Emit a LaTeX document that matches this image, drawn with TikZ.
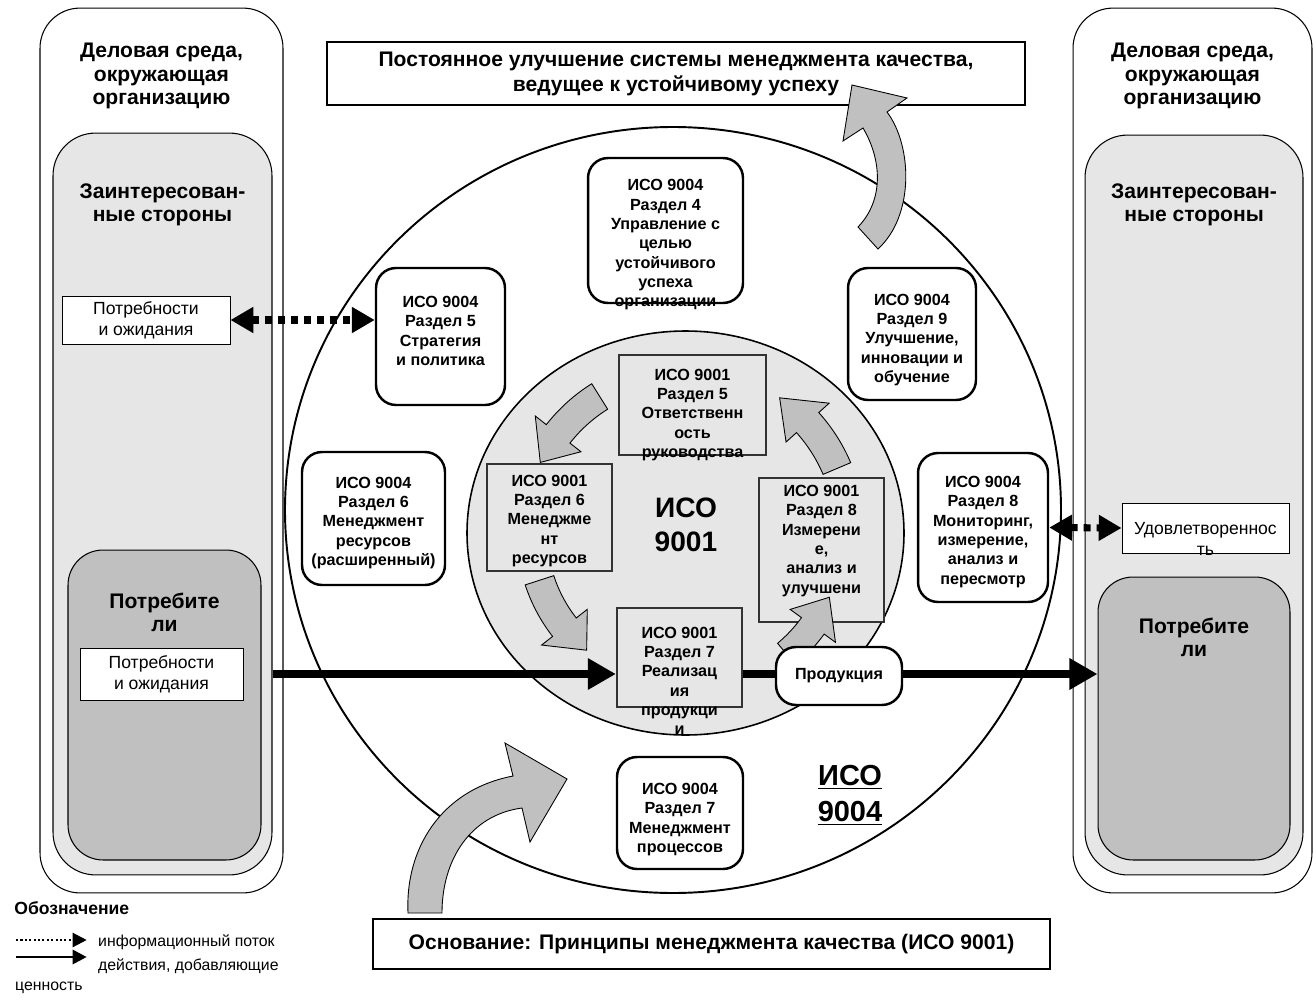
\documentclass[tikz,border=0pt]{standalone}
\usepackage{fontspec}
\setmainfont{Liberation Sans}
\usetikzlibrary{arrows.meta}

\definecolor{paleg}{HTML}{E6E6E6}
\definecolor{darkg}{HTML}{C0C0C0}
\definecolor{edgeg}{HTML}{333333}

\tikzset{
  envbox/.style={draw, fill=white, rounded corners=0.8cm, line width=0.6pt},
  stakebox/.style={draw, fill=paleg, rounded corners=0.85cm, line width=0.6pt},
  custbox/.style={draw, fill=darkg, rounded corners=0.7cm, line width=0.6pt},
  needbox/.style={draw, fill=white, line width=0.5pt, inner sep=0pt, align=center, font=\fontsize{10}{12}\selectfont},
  box4/.style={draw, fill=white, rounded corners=0.4cm, line width=1.4pt},
  box1/.style={draw=edgeg, fill=paleg, line width=1.3pt},
  boxtext/.style={align=center, inner sep=0pt, font=\fontsize{9.2}{11}\selectfont\bfseries},
  headtext/.style={align=center, inner sep=0pt, font=\fontsize{12}{13.4}\selectfont\bfseries},
  banner/.style={draw, fill=white, line width=1.5pt, align=center, inner sep=0pt, font=\fontsize{12}{14.2}\selectfont\bfseries},
  info/.style={line width=4pt, dash pattern=on 4pt off 3.4pt, {Triangle[length=13pt,width=14pt]}-{Triangle[length=13pt,width=14pt]}},
  flow/.style={line width=4.5pt},
  cyclearrow/.style={fill=darkg, draw=black, line width=0.5pt},
  legtext/.style={anchor=west, font=\fontsize{9}{11}\selectfont}
}

\newcommand{\grayarrow}[6]{%
  \begin{scope}[shift={#1}]
    \filldraw[cyclearrow] plot[domain=#2:#3,samples=20] (\x:#6)
      -- ({#3}:{#6+14}) -- ({#4}:{(#5+#6)/2}) -- ({#3}:{#5-14})
      -- plot[domain=#3:#2,samples=20] (\x:#5) -- cycle;
  \end{scope}}

\begin{document}
\begin{tikzpicture}[x=0.02cm, y=-0.02cm]
\useasboundingbox (0,0) rectangle (1316,1004);

\node[envbox, minimum width=4.86cm, minimum height=17.7cm] (envL) at (161.5,450.5) {};
\node[envbox, minimum width=4.78cm, minimum height=17.7cm] (envR) at (1192.5,450.5) {};
\node[stakebox, minimum width=4.38cm, minimum height=14.84cm] (stL) at (162.5,504) {};
\node[stakebox, minimum width=4.36cm, minimum height=14.8cm] (stR) at (1194,505) {};
\node[custbox, minimum width=3.86cm, minimum height=6.2cm] (cuL) at (164.5,705) {};
\node[custbox, minimum width=3.84cm, minimum height=5.66cm] (cuR) at (1194,718.5) {};

\node[headtext] (envLt) at (161.5,76) {Деловая среда,\\окружающая\\организацию};
\node[headtext] (envRt) at (1192.5,76) {Деловая среда,\\окружающая\\организацию};
\node[headtext] (stLt) at (162.5,205) {Заинтересован-\\ные стороны};
\node[headtext] (stRt) at (1194,205) {Заинтересован-\\ные стороны};
\node[headtext] (cuLt) at (164.5,612.5) {Потребите\\ли};
\node[headtext] (cuRt) at (1194,637.5) {Потребите\\ли};

\node[needbox, minimum width=3.36cm, minimum height=0.96cm] (need1) at (146,320) {Потребности\\и ожидания};
\node[needbox, minimum width=3.26cm, minimum height=1.04cm] (need2) at (161.5,674) {Потребности\\и ожидания};
\node[needbox, minimum width=3.34cm, minimum height=1.0cm] (sat) at (1205.5,528) {};
\node[align=center, inner sep=0pt, font=\fontsize{10}{12}\selectfont] (satt) at (1205.5,538.5) {Удовлетвореннос\\ть};

\draw[line width=1.1pt] (673,510) ellipse [x radius=388, y radius=383];
\draw[fill=paleg, line width=0.9pt] (685.5,533) ellipse [x radius=218.5, y radius=202];

\node[box4, minimum width=3.1cm, minimum height=2.9cm] (n4) at (665.5,230.5) {};
\node[box4, minimum width=2.58cm, minimum height=2.74cm] (n5) at (440.5,336.5) {};
\node[box4, minimum width=2.56cm, minimum height=2.64cm] (n9) at (912,334) {};
\node[box4, minimum width=2.86cm, minimum height=2.66cm] (n6) at (373.5,518.5) {};
\node[box4, minimum width=2.6cm, minimum height=2.98cm] (n8) at (983,527.5) {};
\node[box4, minimum width=2.52cm, minimum height=2.24cm] (n7) at (680,813) {};
\node[boxtext] (n4t) at (665.5,245) {ИСО 9004\\Раздел 4\\Управление с\\целью\\устойчивого\\успеха\\организации};
\node[boxtext] (n5t) at (440.5,331) {ИСО 9004\\Раздел 5\\Стратегия\\и политика};
\node[boxtext] (n9t) at (912,340) {ИСО 9004\\Раздел 9\\Улучшение,\\инновации и\\обучение};
\node[boxtext] (n6t) at (373.5,523) {ИСО 9004\\Раздел 6\\Менеджмент\\ресурсов\\(расширенный)};
\node[boxtext] (n8t) at (983,532) {ИСО 9004\\Раздел 8\\Мониторинг,\\измерение,\\анализ и\\пересмотр};
\node[boxtext] (n7t) at (680,819.5) {ИСО 9004\\Раздел 7\\Менеджмент\\процессов};

\node[box1, minimum width=2.94cm, minimum height=2.0cm] (m5) at (692.5,405) {};
\node[box1, minimum width=2.5cm, minimum height=2.14cm] (m6) at (549.5,517.5) {};
\node[box1, minimum width=2.5cm, minimum height=2.88cm] (m8) at (821.5,550) {};
\node[box1, minimum width=2.5cm, minimum height=1.98cm] (m7) at (679.5,657.5) {};
\node[boxtext] (m5t) at (692.5,415) {ИСО 9001\\Раздел 5\\Ответственн\\ость\\руководства};
\node[boxtext] (m6t) at (549.5,521) {ИСО 9001\\Раздел 6\\Менеджме\\нт\\ресурсов};
\node[boxtext] (m8t) at (821.5,541) {ИСО 9001\\Раздел 8\\Измерени\\е,\\анализ и\\улучшени};
\node[boxtext] (m7t) at (679.5,681) {ИСО 9001\\Раздел 7\\Реализац\\ия\\продукци\\и};

\node[align=center, inner sep=0pt, font=\fontsize{16}{19.5}\selectfont\bfseries] (core1) at (686,525) {ИСО\\9001};
\node[align=center, inner sep=0pt, font=\fontsize{16.5}{20.4}\selectfont\bfseries] (core4) at (850,795) {\underline{ИСО}\\\underline{9004}};

\grayarrow{(685,533)}{238}{218}{206}{146}{176}
\grayarrow{(685,533)}{162}{142}{130}{138}{168}
\grayarrow{(685,533)}{50}{36}{24}{144}{172}
\grayarrow{(685,533)}{337}{318}{305}{150}{180}

\node[box4, minimum width=2.52cm, minimum height=1.16cm, font=\fontsize{9.2}{11}\selectfont\bfseries] (prod) at (839,676) {Продукция};
\draw[flow, -{Triangle[length=16pt,width=17pt]}] (stL.east |- need2.east) -- (m7.west |- need2.east);
\draw[flow] (m7.east |- need2.east) -- (prod.west |- need2.east);
\draw[flow, -{Triangle[length=16pt,width=17pt]}] (prod.east |- need2.east) -- (cuR.west |- need2.east);

\draw[info] (need1.east) -- (n5.west |- need1.east);
\draw[info] (n8.east) -- (sat.west);

\node[banner, minimum width=13.96cm, minimum height=1.26cm] (goal) at (676,73.5) {Постоянное улучшение системы менеджмента качества,\\ведущее к устойчивому успеху};
\node[banner, minimum width=13.54cm, minimum height=1.0cm] (base) at (711.5,944) {Основание: Принципы менеджмента качества (ИСО 9001)};

\filldraw[cyclearrow] (858,227) .. controls (884,200) and (882,160) .. (863,128) -- (843,141) -- (852,85) -- (907,98) -- (887,112) .. controls (912,145) and (915,215) .. (878,249) -- cycle;
\filldraw[cyclearrow] (408,913) .. controls (405,850) and (440,790) .. (513,776) -- (505,743) -- (567,779) -- (530,842) -- (522,808) .. controls (470,815) and (442,860) .. (442,913) -- cycle;

\node[anchor=west, inner sep=0pt, font=\fontsize{10}{12}\selectfont\bfseries] (legT) at (14,908) {Обозначение};
\node[legtext] (leg1) at (92,942) {информационный поток};
\node[legtext] (leg2) at (92,966) {действия, добавляющие};
\node[legtext] (leg3) at (9,988) {ценность};
\coordinate (k1) at (16,940);
\coordinate (k2) at (16,957);
\draw[line width=1.3pt, dash pattern=on 1.2pt off 1.3pt, shorten >=3pt, -{Triangle[length=8pt,width=8pt]}] (k1) -- (k1 -| leg1.west);
\draw[line width=1.6pt, shorten >=3pt, -{Triangle[length=8pt,width=8pt]}] (k2) -- (k2 -| leg2.west);

\end{tikzpicture}
\end{document}
